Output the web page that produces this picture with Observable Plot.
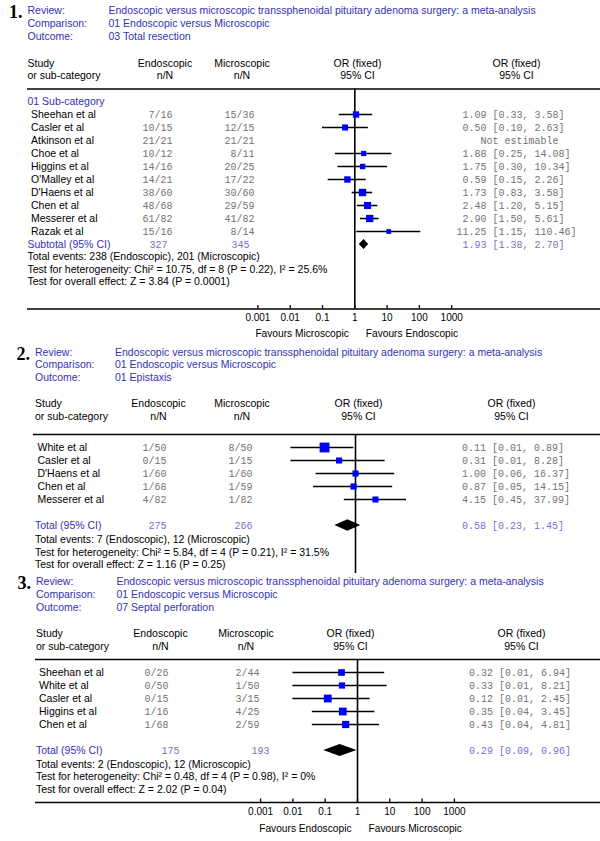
<!DOCTYPE html>
<html>
<head>
<meta charset="utf-8">
<script src="https://cdn.jsdelivr.net/npm/d3@7"></script>
<script src="https://cdn.jsdelivr.net/npm/@observablehq/plot@0.6"></script>
<style>
  body { margin: 0; background: #fff; width: 600px; overflow: hidden; }
  svg { display: block; }
</style>
</head>
<body>
<div id="chart"></div>
<script>
// ---------------- DATA ----------------
const review = "Endoscopic versus microscopic transsphenoidal pituitary adenoma surgery: a meta-analysis";
const comparison = "01 Endoscopic versus Microscopic";
const outcomes = ["03 Total resection", "01 Epistaxis", "07 Septal perforation"];
const panelNumbers = ["1.", "2.", "3."];

// Panel 1 – Total resection
const studies1 = ["Sheehan et al", "Casler et al", "Atkinson et al", "Choe et al", "Higgins et al", "O'Malley et al", "D'Haens et al", "Chen et al", "Messerer et al", "Razak et al"];
const endoEvents1 = [7, 10, 21, 10, 14, 14, 38, 48, 61, 15];
const endoTotal1  = [16, 15, 21, 12, 16, 21, 60, 68, 82, 16];
const microEvents1 = [15, 12, 21, 8, 20, 17, 30, 29, 41, 8];
const microTotal1  = [36, 15, 21, 11, 25, 22, 60, 59, 82, 14];
const or1 = [1.09, 0.50, null, 1.88, 1.75, 0.59, 1.73, 2.48, 2.90, 11.25];
const lo1 = [0.33, 0.10, null, 0.25, 0.30, 0.15, 0.83, 1.20, 1.50, 1.15];
const hi1 = [3.58, 2.63, null, 14.08, 10.34, 2.26, 3.58, 5.15, 5.61, 110.46];
const weight1 = [10.5, 8.1, 0, 2.8, 4.0, 11.3, 22.3, 18.6, 21.3, 1.1];
const pooled1 = [1.93, 1.38, 2.70];
const totalN1 = [327, 345];
const stats1 = [
  "Total events: 238 (Endoscopic), 201 (Microscopic)",
  "Test for heterogeneity: Chi\u00B2 = 10.75, df = 8 (P = 0.22), I\u00B2 = 25.6%",
  "Test for overall effect: Z = 3.84 (P = 0.0001)"
];
const favours1 = ["Favours Microscopic", "Favours Endoscopic"];

// Panel 2 – Epistaxis
const studies2 = ["White et al", "Casler et al", "D'Haens et al", "Chen et al", "Messerer et al"];
const endoEvents2 = [1, 0, 1, 1, 4];
const endoTotal2  = [50, 15, 60, 68, 82];
const microEvents2 = [8, 1, 1, 1, 1];
const microTotal2  = [50, 15, 60, 59, 82];
const or2 = [0.11, 0.31, 1.00, 0.87, 4.15];
const lo2 = [0.01, 0.01, 0.06, 0.05, 0.45];
const hi2 = [0.89, 8.28, 16.37, 14.15, 37.99];
const weight2 = [66.4, 8.5, 8.3, 9.0, 8.1];
const pooled2 = [0.58, 0.23, 1.45];
const totalN2 = [275, 266];
const stats2 = [
  "Total events: 7 (Endoscopic), 12 (Microscopic)",
  "Test for heterogeneity: Chi\u00B2 = 5.84, df = 4 (P = 0.21), I\u00B2 = 31.5%",
  "Test for overall effect: Z = 1.16 (P = 0.25)"
];

// Panel 3 – Septal perforation
const studies3 = ["Sheehan et al", "White et al", "Casler et al", "Higgins et al", "Chen et al"];
const endoEvents3 = [0, 0, 0, 1, 1];
const endoTotal3  = [26, 50, 15, 16, 68];
const microEvents3 = [2, 1, 3, 4, 2];
const microTotal3  = [44, 50, 15, 25, 59];
const or3 = [0.32, 0.33, 0.12, 0.35, 0.43];
const lo3 = [0.01, 0.01, 0.01, 0.04, 0.04];
const hi3 = [6.94, 8.21, 2.45, 3.45, 4.81];
const weight3 = [14.1, 9.5, 28.5, 27.8, 20.1];
const pooled3 = [0.29, 0.09, 0.96];
const totalN3 = [175, 193];
const stats3 = [
  "Total events: 2 (Endoscopic), 12 (Microscopic)",
  "Test for heterogeneity: Chi\u00B2 = 0.48, df = 4 (P = 0.98), I\u00B2 = 0%",
  "Test for overall effect: Z = 2.02 (P = 0.04)"
];
const favours3 = ["Favours Endoscopic", "Favours Microscopic"];

const tickValues = [0.001, 0.01, 0.1, 1, 10, 100, 1000];
const tickLabels = ["0.001", "0.01", "0.1", "1", "10", "100", "1000"];

// ---------------- STYLE / LAYOUT ----------------
const SANS = "Liberation Sans, Arial, sans-serif";
const MONO = "Liberation Mono, Courier New, monospace";
const SERIF = "Liberation Serif, Times New Roman, serif";
const BLUE = "#3232b4", LBLUE = "#7272cc", GRAY = "#737373";
const ROW = 13;
const FS = 10.5;

const panels = [
  {
    num: panelNumbers[0], outcome: outcomes[0], studies: studies1, endoEvents: endoEvents1, endoTotal: endoTotal1,
    microEvents: microEvents1, microTotal: microTotal1, or: or1, lo: lo1, hi: hi1, weight: weight1,
    pooled: pooled1, totalN: totalN1, stats: stats1, favours: favours1, subcat: "01 Sub-category", totLabel: "Subtotal (95% CI)",
    L: { H: 345, base: 101, lineX: 27, labelX: 27, studyX: 30.5, titleX: 108, endoC: 164.5, endoR: 172, microC: 241.5, microR: 254,
         totEndoR: 167, totMicroR: 249, midC: 357, rightC: 516, orEnd: 486, one: 354.3,
         yTitle: [10, 23, 36], yStudy: 62.7, ySub: 75.3, yLine: 88.5, yPooled: 244, yStats: [256.5, 269, 281.5],
         yEnd: 308.5, axis: true, yFav: 333.5, dh: 5 }
  },
  {
    num: panelNumbers[1], outcome: outcomes[1], studies: studies2, endoEvents: endoEvents2, endoTotal: endoTotal2,
    microEvents: microEvents2, microTotal: microTotal2, or: or2, lo: lo2, hi: hi2, weight: weight2,
    pooled: pooled2, totalN: totalN2, stats: stats2, favours: null, subcat: null, totLabel: "Total (95% CI)",
    L: { H: 230, base: 89, lineX: 33, labelX: 34.5, studyX: 37, titleX: 114.5, endoC: 158, endoR: 166, microC: 241.5, microR: 252,
         totEndoR: 166, totMicroR: 252, midC: 358, rightC: 511, orEnd: 485.5, one: 355,
         yTitle: [7, 19.5, 32.5], yStudy: 58.5, ySub: 71.5, yLine: 89, yPooled: 180, yStats: [194, 207, 219.5],
         yEnd: 228, axis: false, dh: 5.7 }
  },
  {
    num: panelNumbers[2], outcome: outcomes[2], studies: studies3, endoEvents: endoEvents3, endoTotal: endoTotal3,
    microEvents: microEvents3, microTotal: microTotal3, or: or3, lo: lo3, hi: hi3, weight: weight3,
    pooled: pooled3, totalN: totalN3, stats: stats3, favours: favours3, subcat: null, totLabel: "Total (95% CI)",
    L: { H: 266, base: 84, lineX: 35, labelX: 35.5, studyX: 38.5, titleX: 116, endoC: 160, endoR: 168, microC: 245.5, microR: 259,
         totEndoR: 179, totMicroR: 269, midC: 350, rightC: 521, orEnd: 492.5, one: 357,
         yTitle: [6, 19, 32], yStudy: 58, ySub: 71, yLine: 84, yPooled: 175, yStats: [189, 201.5, 214],
         yEnd: 227, axis: true, yFav: 253, dh: 6 }
  }
];

function buildPanel(D) {
  const L = D.L;
  const R = px => (px - L.base) / ROW;
  const DEC = 32.3;
  const rows = D.studies.map((s, i) => ({
    study: s,
    e: `${D.endoEvents[i]}/${D.endoTotal[i]}`,
    m: `${D.microEvents[i]}/${D.microTotal[i]}`,
    or: D.or[i], lo: D.lo[i], hi: D.hi[i], w: D.weight[i], r: i + 1
  }));
  const est = rows.filter(d => d.or != null);
  const noEst = rows.filter(d => d.or == null);
  const at = x => ({ frameAnchor: "left", dx: x - L.lineX });
  const label = (s, x, y, o = {}) => Plot.text([s], {
    ...at(x), y: () => R(y), text: d => d, textAnchor: "start",
    fill: "black", fontFamily: SANS, fontSize: FS, ...o
  });
  const [pOR, pLo, pHi] = D.pooled;
  const rp = R(L.yPooled);
  const hh = L.dh / ROW;
  const diamond = [
    { x: pLo, y1: rp, y2: rp },
    { x: pOR, y1: rp - hh, y2: rp + hh },
    { x: pHi, y1: rp, y2: rp }
  ];
  const monoOpts = { fontFamily: MONO, fontSize: 10, fill: GRAY };

  const marks = [
    label(D.num, L.labelX - 5, L.yTitle[0] + 2, { textAnchor: "end", fontFamily: SERIF, fontSize: 18, fontWeight: "bold" }),
    ...["Review:", "Comparison:", "Outcome:"].map((s, k) => label(s, L.labelX, L.yTitle[k], { fill: BLUE })),
    ...[review, comparison, D.outcome].map((s, k) => label(s, L.titleX, L.yTitle[k], { fill: BLUE })),
    label("Study", L.labelX, L.yStudy),
    label("or sub-category", L.labelX, L.ySub),
    label("Endoscopic", L.endoC, L.yStudy, { textAnchor: "middle" }),
    label("n/N", L.endoC, L.ySub, { textAnchor: "middle" }),
    label("Microscopic", L.microC, L.yStudy, { textAnchor: "middle" }),
    label("n/N", L.microC, L.ySub, { textAnchor: "middle" }),
    label("OR (fixed)", L.midC, L.yStudy, { textAnchor: "middle" }),
    label("95% CI", L.midC, L.ySub, { textAnchor: "middle" }),
    label("OR (fixed)", L.rightC, L.yStudy, { textAnchor: "middle" }),
    label("95% CI", L.rightC, L.ySub, { textAnchor: "middle" }),
    Plot.ruleY([R(L.yLine)], { stroke: "black", strokeWidth: 1.6 }),
    Plot.ruleX([1], { y1: R(L.yLine), y2: R(L.yEnd), stroke: "black", strokeWidth: 1.6 }),
    Plot.ruleY(est, { y: "r", x1: "lo", x2: "hi", stroke: "black", strokeWidth: 1.6 }),
    Plot.dot(est, { x: "or", y: "r", r: "w", symbol: "square", fill: "#0000ff", stroke: "none" }),
    Plot.areaY(diamond, { x: "x", y1: "y1", y2: "y2", fill: "black", curve: "linear" }),
    Plot.text(rows, { ...at(L.studyX), y: "r", text: "study", textAnchor: "start", fontFamily: SANS, fontSize: FS, fill: "black" }),
    Plot.text(rows, { ...at(L.endoR), y: "r", text: "e", textAnchor: "end", ...monoOpts }),
    Plot.text(rows, { ...at(L.microR), y: "r", text: "m", textAnchor: "end", ...monoOpts }),
    Plot.text(est, { ...at(L.orEnd), y: "r", text: d => d.or.toFixed(2), textAnchor: "end", ...monoOpts }),
    Plot.text(est, { ...at(L.orEnd + 6), y: "r", text: d => `[${d.lo.toFixed(2)}, ${d.hi.toFixed(2)}]`, textAnchor: "start", ...monoOpts }),
    Plot.text(noEst, { ...at(L.orEnd + 33), y: "r", text: () => "Not estimable", textAnchor: "middle", ...monoOpts }),
    label(D.totLabel, L.labelX, L.yPooled, { fill: BLUE }),
    label(String(D.totalN[0]), L.totEndoR, L.yPooled, { textAnchor: "end", ...monoOpts, fill: LBLUE }),
    label(String(D.totalN[1]), L.totMicroR, L.yPooled, { textAnchor: "end", ...monoOpts, fill: LBLUE }),
    label(pOR.toFixed(2), L.orEnd, L.yPooled, { textAnchor: "end", ...monoOpts, fill: LBLUE }),
    label(`[${pLo.toFixed(2)}, ${pHi.toFixed(2)}]`, L.orEnd + 6, L.yPooled, { textAnchor: "start", ...monoOpts, fill: LBLUE }),
    ...D.stats.map((s, k) => label(s, L.labelX, L.yStats[k]))
  ];
  if (D.subcat) marks.push(label(D.subcat, L.labelX, L.base, { fill: BLUE }));
  if (L.axis) {
    marks.push(
      Plot.ruleY([R(L.yEnd)], { stroke: "black", strokeWidth: 1.6 }),
      Plot.ruleX(tickValues, { y1: R(L.yEnd - 3.5), y2: R(L.yEnd), stroke: "black", strokeWidth: 1.3 }),
      Plot.axisX({
        ticks: tickValues, tickFormat: d => tickLabels[tickValues.indexOf(d)],
        tickSize: 0, tickPadding: 5, fontSize: 10, fontFamily: SANS, label: null, anchor: "bottom"
      }),
      label(D.favours[0], L.one - 6, L.yFav, { textAnchor: "end", fontSize: 10.2 }),
      label(D.favours[1], L.one + 11, L.yFav, { textAnchor: "start", fontSize: 10.2 })
    );
  }

  return Plot.plot({
    width: 600,
    height: L.H,
    marginLeft: L.lineX,
    marginRight: 0,
    marginTop: 0,
    marginBottom: L.axis ? L.H - L.yEnd : 0,
    style: { background: "white", fontFamily: SANS, overflow: "visible" },
    x: { type: "log", domain: [1e-3, 1e3], range: [L.one - 3 * DEC, L.one + 3 * DEC], ...(L.axis ? {} : { axis: null }) },
    y: { type: "linear", domain: [-L.base / ROW, (L.H - L.base) / ROW], range: [0, L.H], axis: null },
    r: { type: "sqrt", domain: [0, 100], range: [2.26, 6.32] },
    marks
  });
}

const root = document.getElementById("chart");
for (const p of panels) root.appendChild(buildPanel(p));
</script>
</body>
</html>
